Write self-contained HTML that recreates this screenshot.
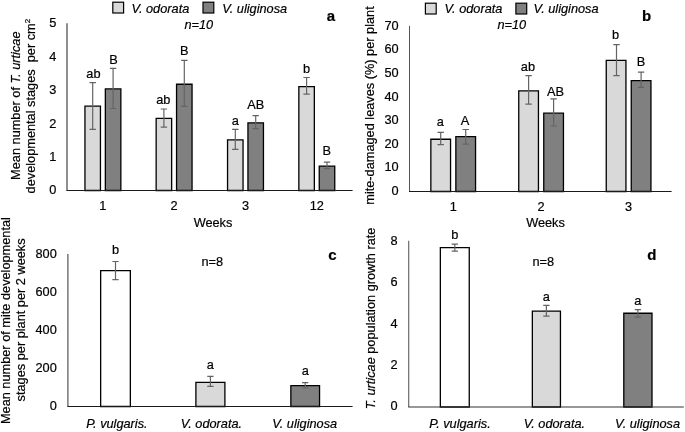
<!DOCTYPE html>
<html><head><meta charset="utf-8"><title>figure</title>
<style>
html,body{margin:0;padding:0;background:#fff;}
body{width:685px;height:432px;overflow:hidden;}
svg{display:block;will-change:transform;font-family:"Liberation Sans",sans-serif;fill:#000;}
svg text{fill:#000;stroke:#000;stroke-width:0.2px;}
svg{filter:blur(0.25px);}
</style></head>
<body>
<svg width="685" height="432" viewBox="0 0 685 432">
<rect width="685" height="432" fill="#fff"/>
<path d="M67.00 23.20V190.50" stroke="#444" stroke-width="1.2" fill="none"/>
<text x="56.40" y="194.40" text-anchor="end" font-size="12.75" font-weight="normal" font-style="normal" >0</text>
<text x="56.40" y="160.96" text-anchor="end" font-size="12.75" font-weight="normal" font-style="normal" >1</text>
<text x="56.40" y="127.52" text-anchor="end" font-size="12.75" font-weight="normal" font-style="normal" >2</text>
<text x="56.40" y="94.08" text-anchor="end" font-size="12.75" font-weight="normal" font-style="normal" >3</text>
<text x="56.40" y="60.64" text-anchor="end" font-size="12.75" font-weight="normal" font-style="normal" >4</text>
<text x="56.40" y="27.20" text-anchor="end" font-size="12.75" font-weight="normal" font-style="normal" >5</text>
<path d="M84.95 190.50V106.05H100.45V190.50Z" fill="#d9d9d9" stroke="#000" stroke-width="1.3" stroke-linejoin="miter"/>
<path d="M105.35 190.50V88.95H120.85V190.50Z" fill="#808080" stroke="#000" stroke-width="1.3" stroke-linejoin="miter"/>
<path d="M92.70 82.60V129.40M89.50 82.60H95.90M89.50 129.40H95.90" stroke="#646464" stroke-width="1.2" fill="none"/>
<path d="M113.10 68.30V108.50M109.90 68.30H116.30M109.90 108.50H116.30" stroke="#646464" stroke-width="1.2" fill="none"/>
<text x="93.40" y="77.60" text-anchor="middle" font-size="12.75" font-weight="normal" font-style="normal" >ab</text>
<text x="113.50" y="63.95" text-anchor="middle" font-size="12.75" font-weight="normal" font-style="normal" >B</text>
<path d="M156.15 190.50V118.45H171.65V190.50Z" fill="#d9d9d9" stroke="#000" stroke-width="1.3" stroke-linejoin="miter"/>
<path d="M176.55 190.50V84.25H192.05V190.50Z" fill="#808080" stroke="#000" stroke-width="1.3" stroke-linejoin="miter"/>
<path d="M163.90 109.00V127.10M160.70 109.00H167.10M160.70 127.10H167.10" stroke="#646464" stroke-width="1.2" fill="none"/>
<path d="M184.30 60.40V106.30M181.10 60.40H187.50M181.10 106.30H187.50" stroke="#646464" stroke-width="1.2" fill="none"/>
<text x="163.25" y="104.30" text-anchor="middle" font-size="12.75" font-weight="normal" font-style="normal" >ab</text>
<text x="184.30" y="55.20" text-anchor="middle" font-size="12.75" font-weight="normal" font-style="normal" >B</text>
<path d="M227.55 190.50V139.85H243.05V190.50Z" fill="#d9d9d9" stroke="#000" stroke-width="1.3" stroke-linejoin="miter"/>
<path d="M247.95 190.50V122.85H263.45V190.50Z" fill="#808080" stroke="#000" stroke-width="1.3" stroke-linejoin="miter"/>
<path d="M235.30 129.40V149.40M232.10 129.40H238.50M232.10 149.40H238.50" stroke="#646464" stroke-width="1.2" fill="none"/>
<path d="M255.70 115.70V128.60M252.50 115.70H258.90M252.50 128.60H258.90" stroke="#646464" stroke-width="1.2" fill="none"/>
<text x="235.30" y="124.60" text-anchor="middle" font-size="12.75" font-weight="normal" font-style="normal" >a</text>
<text x="255.85" y="108.80" text-anchor="middle" font-size="12.75" font-weight="normal" font-style="normal" >AB</text>
<path d="M298.85 190.50V86.55H314.35V190.50Z" fill="#d9d9d9" stroke="#000" stroke-width="1.3" stroke-linejoin="miter"/>
<path d="M319.25 190.50V166.05H334.75V190.50Z" fill="#808080" stroke="#000" stroke-width="1.3" stroke-linejoin="miter"/>
<path d="M306.60 77.50V94.20M303.40 77.50H309.80M303.40 94.20H309.80" stroke="#646464" stroke-width="1.2" fill="none"/>
<path d="M327.00 162.10V168.70M323.80 162.10H330.20M323.80 168.70H330.20" stroke="#646464" stroke-width="1.2" fill="none"/>
<text x="306.50" y="73.20" text-anchor="middle" font-size="12.75" font-weight="normal" font-style="normal" >b</text>
<text x="326.75" y="155.15" text-anchor="middle" font-size="12.75" font-weight="normal" font-style="normal" >B</text>
<text x="102.90" y="210.00" text-anchor="middle" font-size="12.75" font-weight="normal" font-style="normal" >1</text>
<text x="174.10" y="210.00" text-anchor="middle" font-size="12.75" font-weight="normal" font-style="normal" >2</text>
<text x="245.50" y="210.00" text-anchor="middle" font-size="12.75" font-weight="normal" font-style="normal" >3</text>
<text x="316.80" y="210.00" text-anchor="middle" font-size="12.75" font-weight="normal" font-style="normal" >12</text>
<text x="213.00" y="227.20" text-anchor="middle" font-size="12.75" font-weight="normal" font-style="normal" >Weeks</text>
<path d="M409.50 25.90V191.50" stroke="#555" stroke-width="1.0" fill="none"/>
<text x="398.60" y="195.00" text-anchor="end" font-size="12.75" font-weight="normal" font-style="normal" >0</text>
<text x="398.60" y="171.41" text-anchor="end" font-size="12.75" font-weight="normal" font-style="normal" >10</text>
<text x="398.60" y="147.83" text-anchor="end" font-size="12.75" font-weight="normal" font-style="normal" >20</text>
<text x="398.60" y="124.24" text-anchor="end" font-size="12.75" font-weight="normal" font-style="normal" >30</text>
<text x="398.60" y="100.66" text-anchor="end" font-size="12.75" font-weight="normal" font-style="normal" >40</text>
<text x="398.60" y="77.07" text-anchor="end" font-size="12.75" font-weight="normal" font-style="normal" >50</text>
<text x="398.60" y="53.49" text-anchor="end" font-size="12.75" font-weight="normal" font-style="normal" >60</text>
<text x="398.60" y="29.90" text-anchor="end" font-size="12.75" font-weight="normal" font-style="normal" >70</text>
<path d="M430.85 191.50V139.25H450.55V191.50Z" fill="#d9d9d9" stroke="#000" stroke-width="1.3" stroke-linejoin="miter"/>
<path d="M455.85 191.50V136.65H475.55V191.50Z" fill="#808080" stroke="#000" stroke-width="1.3" stroke-linejoin="miter"/>
<path d="M440.70 132.40V144.60M437.50 132.40H443.90M437.50 144.60H443.90" stroke="#646464" stroke-width="1.2" fill="none"/>
<path d="M465.70 129.50V144.10M462.50 129.50H468.90M462.50 144.10H468.90" stroke="#646464" stroke-width="1.2" fill="none"/>
<text x="440.20" y="126.20" text-anchor="middle" font-size="12.75" font-weight="normal" font-style="normal" >a</text>
<text x="465.05" y="125.10" text-anchor="middle" font-size="12.75" font-weight="normal" font-style="normal" >A</text>
<path d="M518.75 191.50V90.85H538.45V191.50Z" fill="#d9d9d9" stroke="#000" stroke-width="1.3" stroke-linejoin="miter"/>
<path d="M543.75 191.50V113.15H563.45V191.50Z" fill="#808080" stroke="#000" stroke-width="1.3" stroke-linejoin="miter"/>
<path d="M528.60 75.60V104.10M525.40 75.60H531.80M525.40 104.10H531.80" stroke="#646464" stroke-width="1.2" fill="none"/>
<path d="M553.60 98.80V126.00M550.40 98.80H556.80M550.40 126.00H556.80" stroke="#646464" stroke-width="1.2" fill="none"/>
<text x="527.90" y="71.25" text-anchor="middle" font-size="12.75" font-weight="normal" font-style="normal" >ab</text>
<text x="555.50" y="95.95" text-anchor="middle" font-size="12.75" font-weight="normal" font-style="normal" >AB</text>
<path d="M606.25 191.50V60.35H625.95V191.50Z" fill="#d9d9d9" stroke="#000" stroke-width="1.3" stroke-linejoin="miter"/>
<path d="M631.25 191.50V80.65H650.95V191.50Z" fill="#808080" stroke="#000" stroke-width="1.3" stroke-linejoin="miter"/>
<path d="M616.50 44.60V75.60M613.30 44.60H619.70M613.30 75.60H619.70" stroke="#646464" stroke-width="1.2" fill="none"/>
<path d="M641.10 72.20V87.30M637.90 72.20H644.30M637.90 87.30H644.30" stroke="#646464" stroke-width="1.2" fill="none"/>
<text x="615.60" y="38.90" text-anchor="middle" font-size="12.75" font-weight="normal" font-style="normal" >b</text>
<text x="641.10" y="65.50" text-anchor="middle" font-size="12.75" font-weight="normal" font-style="normal" >B</text>
<text x="453.20" y="210.80" text-anchor="middle" font-size="12.75" font-weight="normal" font-style="normal" >1</text>
<text x="541.10" y="210.80" text-anchor="middle" font-size="12.75" font-weight="normal" font-style="normal" >2</text>
<text x="628.60" y="210.80" text-anchor="middle" font-size="12.75" font-weight="normal" font-style="normal" >3</text>
<text x="545.50" y="227.40" text-anchor="middle" font-size="12.75" font-weight="normal" font-style="normal" >Weeks</text>
<path d="M67.90 253.90V406.50" stroke="#555" stroke-width="1.2" fill="none"/>
<text x="56.80" y="410.40" text-anchor="end" font-size="12.75" font-weight="normal" font-style="normal" >0</text>
<text x="56.80" y="372.27" text-anchor="end" font-size="12.75" font-weight="normal" font-style="normal" >200</text>
<text x="56.80" y="334.15" text-anchor="end" font-size="12.75" font-weight="normal" font-style="normal" >400</text>
<text x="56.80" y="296.02" text-anchor="end" font-size="12.75" font-weight="normal" font-style="normal" >600</text>
<text x="56.80" y="257.90" text-anchor="end" font-size="12.75" font-weight="normal" font-style="normal" >800</text>
<path d="M100.65 406.50V270.55H130.35V406.50Z" fill="#ffffff" stroke="#000" stroke-width="1.3" stroke-linejoin="miter"/>
<path d="M115.50 261.50V279.60M112.35 261.50H118.65M112.35 279.60H118.65" stroke="#646464" stroke-width="1.2" fill="none"/>
<text x="115.50" y="253.90" text-anchor="middle" font-size="12.75" font-weight="normal" font-style="normal" >b</text>
<path d="M195.90 406.50V382.35H224.90V406.50Z" fill="#d9d9d9" stroke="#000" stroke-width="1.3" stroke-linejoin="miter"/>
<path d="M210.40 376.40V386.40M207.25 376.40H213.55M207.25 386.40H213.55" stroke="#646464" stroke-width="1.2" fill="none"/>
<text x="210.40" y="368.80" text-anchor="middle" font-size="12.75" font-weight="normal" font-style="normal" >a</text>
<path d="M290.85 406.50V385.65H319.55V406.50Z" fill="#808080" stroke="#000" stroke-width="1.3" stroke-linejoin="miter"/>
<path d="M305.20 382.70V388.00M302.05 382.70H308.35M302.05 388.00H308.35" stroke="#646464" stroke-width="1.2" fill="none"/>
<text x="305.20" y="375.10" text-anchor="middle" font-size="12.75" font-weight="normal" font-style="normal" >a</text>
<text x="116.90" y="428.00" text-anchor="middle" font-size="12.75" font-weight="normal" font-style="italic" >P. vulgaris.</text>
<text x="211.40" y="428.00" text-anchor="middle" font-size="12.75" font-weight="normal" font-style="italic" >V. odorata.</text>
<text x="304.70" y="428.00" text-anchor="middle" font-size="12.75" font-weight="normal" font-style="italic" >V. uliginosa</text>
<text x="212.30" y="265.60" text-anchor="middle" font-size="12.75" font-weight="normal" font-style="normal" >n=8</text>
<path d="M408.70 240.80V407.00" stroke="#6a6a6a" stroke-width="1.2" fill="none"/>
<text x="397.60" y="410.40" text-anchor="end" font-size="12.75" font-weight="normal" font-style="normal" >0</text>
<text x="397.60" y="369.00" text-anchor="end" font-size="12.75" font-weight="normal" font-style="normal" >2</text>
<text x="397.60" y="327.60" text-anchor="end" font-size="12.75" font-weight="normal" font-style="normal" >4</text>
<text x="397.60" y="286.20" text-anchor="end" font-size="12.75" font-weight="normal" font-style="normal" >6</text>
<text x="397.60" y="244.80" text-anchor="end" font-size="12.75" font-weight="normal" font-style="normal" >8</text>
<path d="M440.35 407.00V247.65H469.25V407.00Z" fill="#ffffff" stroke="#000" stroke-width="1.3" stroke-linejoin="miter"/>
<path d="M454.80 244.10V251.10M451.65 244.10H457.95M451.65 251.10H457.95" stroke="#646464" stroke-width="1.2" fill="none"/>
<text x="454.80" y="239.30" text-anchor="middle" font-size="12.75" font-weight="normal" font-style="normal" >b</text>
<path d="M532.35 407.00V311.05H560.45V407.00Z" fill="#d9d9d9" stroke="#000" stroke-width="1.3" stroke-linejoin="miter"/>
<path d="M546.40 305.30V316.10M543.25 305.30H549.55M543.25 316.10H549.55" stroke="#646464" stroke-width="1.2" fill="none"/>
<text x="546.40" y="300.50" text-anchor="middle" font-size="12.75" font-weight="normal" font-style="normal" >a</text>
<path d="M623.80 407.00V313.25H652.00V407.00Z" fill="#808080" stroke="#000" stroke-width="1.3" stroke-linejoin="miter"/>
<path d="M637.90 309.60V317.10M634.75 309.60H641.05M634.75 317.10H641.05" stroke="#646464" stroke-width="1.2" fill="none"/>
<text x="637.90" y="304.80" text-anchor="middle" font-size="12.75" font-weight="normal" font-style="normal" >a</text>
<text x="460.00" y="427.60" text-anchor="middle" font-size="12.75" font-weight="normal" font-style="italic" >P. vulgaris.</text>
<text x="554.40" y="427.60" text-anchor="middle" font-size="12.75" font-weight="normal" font-style="italic" >V. odorata.</text>
<text x="647.60" y="427.60" text-anchor="middle" font-size="12.75" font-weight="normal" font-style="italic" >V. uliginosa</text>
<text x="543.20" y="265.60" text-anchor="middle" font-size="12.75" font-weight="normal" font-style="normal" >n=8</text>
<rect x="112.80" y="2.20" width="10.8" height="10.8" fill="#d9d9d9" stroke="#000" stroke-width="1.2"/>
<text x="131.40" y="12.60" text-anchor="start" font-size="12.75" font-weight="normal" font-style="italic" >V. odorata</text>
<rect x="203.00" y="2.20" width="10.8" height="10.8" fill="#808080" stroke="#000" stroke-width="1.2"/>
<text x="222.20" y="12.60" text-anchor="start" font-size="12.75" font-weight="normal" font-style="italic" >V. uliginosa</text>
<rect x="425.40" y="3.20" width="10.8" height="10.8" fill="#d9d9d9" stroke="#000" stroke-width="1.2"/>
<text x="444.50" y="13.40" text-anchor="start" font-size="12.75" font-weight="normal" font-style="italic" >V. odorata</text>
<rect x="515.90" y="3.20" width="10.8" height="10.8" fill="#808080" stroke="#000" stroke-width="1.2"/>
<text x="533.60" y="13.40" text-anchor="start" font-size="12.75" font-weight="normal" font-style="italic" >V. uliginosa</text>
<text x="198.80" y="28.80" text-anchor="middle" font-size="12.75" font-weight="normal" font-style="italic" >n=10</text>
<text x="511.80" y="28.90" text-anchor="middle" font-size="12.75" font-weight="normal" font-style="italic" >n=10</text>
<text x="331.00" y="21.20" text-anchor="middle" font-size="15" font-weight="bold" font-style="normal" >a</text>
<text x="646.50" y="21.20" text-anchor="middle" font-size="15" font-weight="bold" font-style="normal" >b</text>
<text x="332.40" y="259.90" text-anchor="middle" font-size="15" font-weight="bold" font-style="normal" >c</text>
<text x="651.80" y="259.80" text-anchor="middle" font-size="15" font-weight="bold" font-style="normal" >d</text>
<text transform="translate(20.00 105.70) rotate(-90)" text-anchor="middle" font-size="12.75">Mean number of <tspan font-style="italic">T. urticae</tspan></text>
<text transform="translate(34.60 106.10) rotate(-90)" text-anchor="middle" font-size="12.75">developmental stages&#160; per cm<tspan font-size="8.1" dy="-4.8">2</tspan></text>
<text transform="translate(374.20 105.50) rotate(-90)" text-anchor="middle" font-size="12.75">mite-damaged leaves (%) per plant</text>
<text transform="translate(10.20 320.60) rotate(-90)" text-anchor="middle" font-size="12.75">Mean number of mite developmental</text>
<text transform="translate(24.80 319.90) rotate(-90)" text-anchor="middle" font-size="12.75">stages per plant per 2 weeks</text>
<text transform="translate(375.20 318.40) rotate(-90)" text-anchor="middle" font-size="12.75"><tspan font-style="italic">T. urticae</tspan> population growth rate</text>
<path d="M66.50 190.50H352.60" stroke="#1a1a1a" stroke-width="1.0" fill="none"/>
<path d="M409.00 191.50H671.60" stroke="#1a1a1a" stroke-width="1.0" fill="none"/>
<path d="M67.40 406.50H352.60" stroke="#1a1a1a" stroke-width="1.0" fill="none"/>
<path d="M408.20 407.00H683.80" stroke="#333" stroke-width="1.2" fill="none"/>
</svg>
</body></html>
